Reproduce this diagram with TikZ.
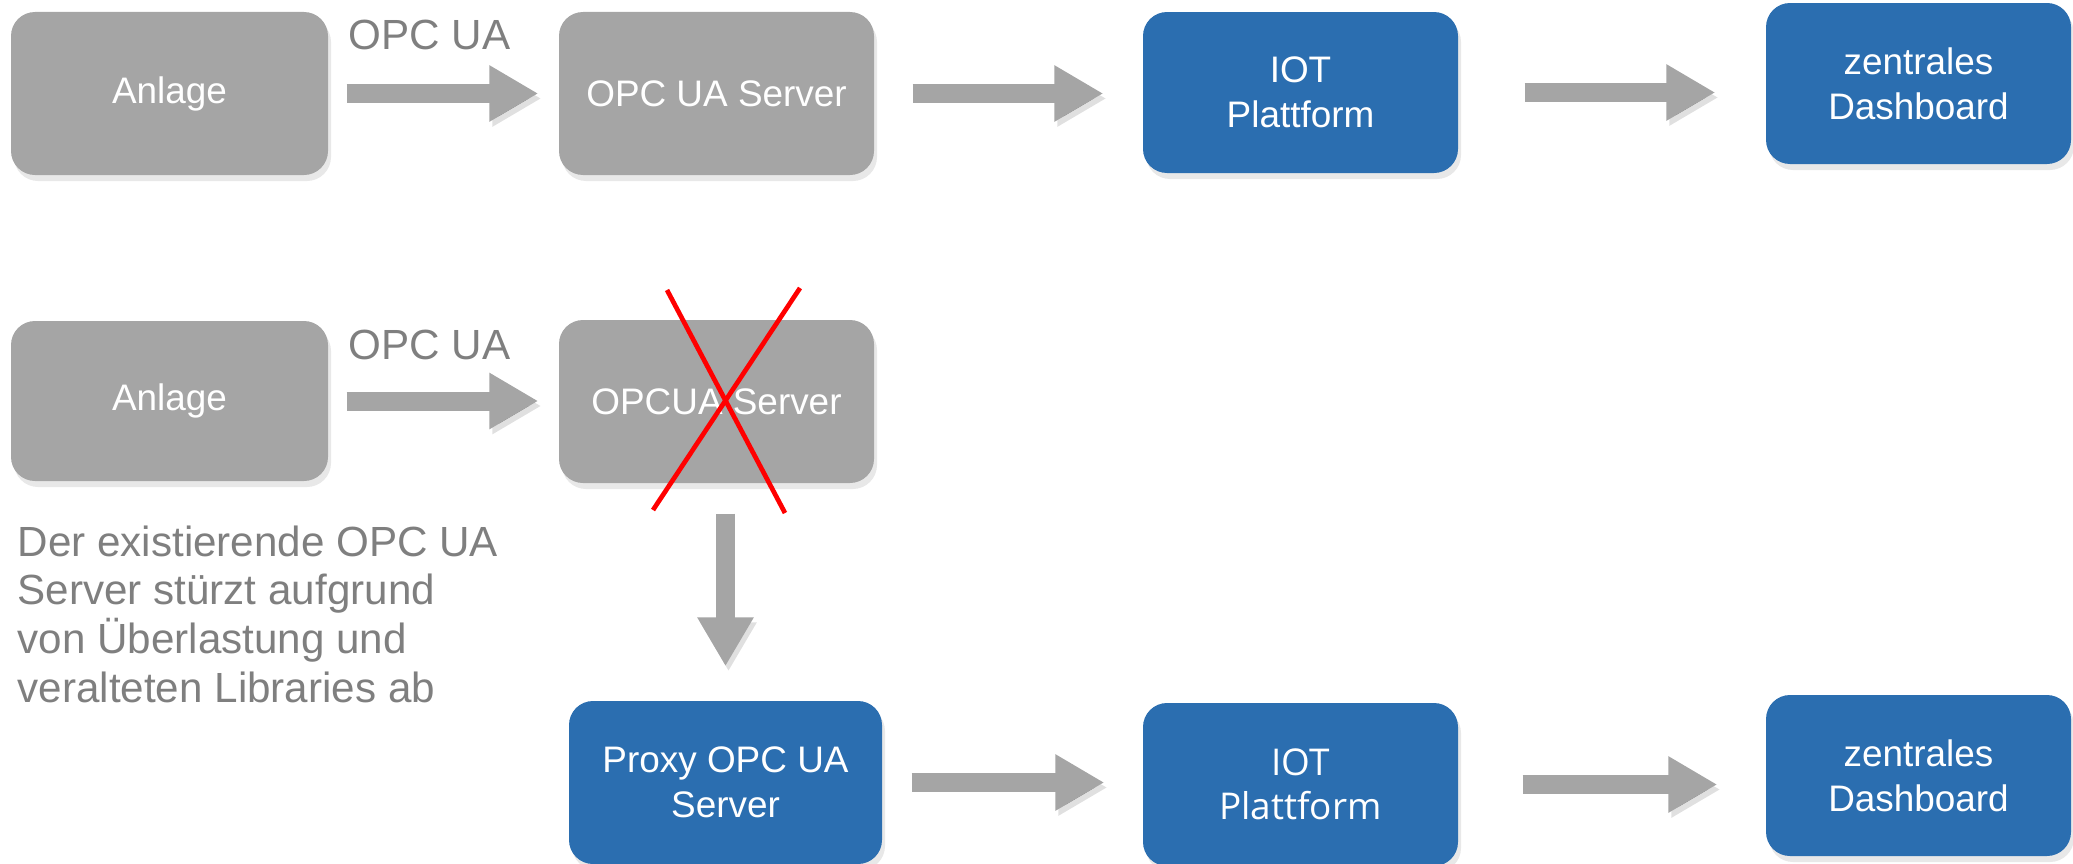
\documentclass[tikz,border=0pt]{standalone}
\usepackage{fontspec}
\setmainfont{Liberation Sans}
\newfontfamily\opensans{Open Sans}
\usetikzlibrary{arrows.meta,shadows}
\definecolor{boxgray}{RGB}{165,165,165}
\definecolor{iotblue}{RGB}{43,110,176}
\definecolor{notegray}{RGB}{127,127,127}
\begin{document}
\begin{tikzpicture}
	\tikzset{
		box/.style={rounded corners=2.4mm, minimum width=3.15cm, minimum height=1.63cm, inner sep=0pt, align=center, text=white, font=\fontsize{10.5}{12.8}\selectfont, drop shadow={shadow xshift=0.3mm, shadow yshift=-0.6mm, opacity=0.18}},
		graybox/.style={box, fill=boxgray},
		bluebox/.style={box, fill=iotblue},
		flow/.style={draw=boxgray, line width=1.9mm, -{Triangle[width=5.3mm,length=4.9mm]}, preaction={draw=black, draw opacity=0.12, transform canvas={shift={(0.3mm,-0.5mm)}}}},
		lbl/.style={text=notegray, inner sep=0pt, font=\fontsize{12}{14}\selectfont},
		redcross/.style={draw=red, line width=0.47mm}
	}
	\useasboundingbox (0,0) rectangle (20.73,-8.63);
	% first row
	\node [graybox, minimum width=3.17cm] (anl1) at (1.695,-0.935) {Anlage};
	\node [graybox] (srv1) at (7.165,-0.935) {OPC UA Server};
	\node [bluebox, minimum height=1.61cm] (iot1) at (13.005,-0.925) {IOT\\Plattform};
	\node [bluebox, minimum width=3.05cm, minimum height=1.61cm] (dash1) at (19.185,-0.835) {zentrales\\Dashboard};
	\node [lbl, anchor=base west] (opc1) at (3.48,-0.49) {OPC UA};
	\draw [flow, shorten <=1.8mm, shorten >=2mm] (anl1.east) -- (anl1.east -| srv1.west);
	\draw [flow, shorten <=3.8mm, shorten >=3.9mm] (srv1.east) -- (srv1.east -| iot1.west);
	\draw [flow, shorten <=6.6mm, shorten >=5mm] (iot1.east) -- (iot1.east -| dash1.west);
	% second row
	\node [graybox, minimum width=3.17cm, minimum height=1.6cm] (anl2) at (1.695,-4.01) {Anlage};
	\node [graybox] (srv2) at (7.165,-4.015) {OPCUA Server};
	\node [lbl, anchor=base west] (opc2) at (3.48,-3.59) {OPC UA};
	\draw [flow, shorten <=1.8mm, shorten >=2mm] (anl2.east) -- (anl2.east -| srv2.west);
	\draw [redcross] (6.67,-2.90) -- (7.85,-5.13);
	\draw [redcross] (8.00,-2.88) -- (6.53,-5.10);
	\node [lbl, anchor=north west, align=left, font=\fontsize{12}{13.86}\selectfont] (note) at (0.17,-5.25) {Der existierende OPC UA\\Server stürzt aufgrund\\von Überlastung und\\veralteten Libraries ab};
	% third row
	\node [bluebox, minimum width=3.13cm] (proxy) at (7.255,-7.825) {Proxy OPC UA\\Server};
	\node [bluebox, font=\opensans\fontsize{10.5}{12.6}\selectfont] (iot2) at (13.005,-7.845) {IOT\\Plattform};
	\node [bluebox, minimum width=3.05cm, minimum height=1.61cm] (dash2) at (19.185,-7.755) {zentrales\\Dashboard};
	\draw [flow, shorten <=3mm, shorten >=3.4mm] (proxy.north |- srv2.south) -- (proxy.north);
	\draw [flow, shorten <=2.9mm, shorten >=3.8mm] (proxy.east) -- (proxy.east -| iot2.west);
	\draw [flow, shorten <=6.4mm, shorten >=4.8mm] (iot2.east) -- (iot2.east -| dash2.west);
\end{tikzpicture}
\end{document}
